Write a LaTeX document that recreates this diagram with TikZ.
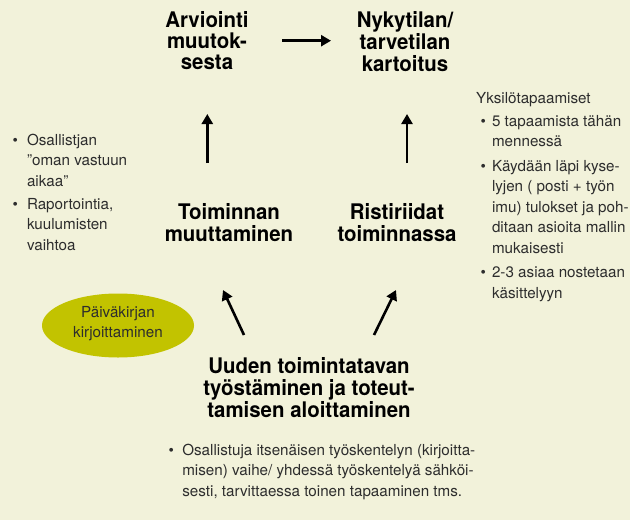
\documentclass[tikz,border=0pt]{standalone}
\usepackage{fontspec}
\setmainfont{TeX Gyre Heros}
\newfontfamily\headfam{TeX Gyre Heros}[FakeStretch=0.95]
\usetikzlibrary{arrows.meta,shapes.geometric}
\definecolor{paper}{RGB}{242,242,218}
\definecolor{olivefill}{RGB}{194,195,0}
\definecolor{ink}{RGB}{45,45,45}
\tikzset{
  head/.style={anchor=base, inner sep=0pt, text=black, font=\headfam\bfseries\fontsize{21.5}{21}\selectfont},
  notes/.style={anchor=base west, inner sep=0pt, text=ink, font=\fontsize{15.2}{20.5}\selectfont},
  flow/.style={line width=2.6pt, -{Triangle[length=10pt,width=11pt]}},
}
\begin{document}
\begin{tikzpicture}[x=1pt,y=1pt,yscale=-1,xscale=1]
	\fill [paper] (0,0) rectangle (630,520);
	\useasboundingbox (0,0) rectangle (630,520);
	% stages of the cycle
	\node [head] (arv) at (207,27) {\begin{tabular}[t]{@{}c@{}}Arviointi\\muutok-\\sesta\end{tabular}};
	\node [head] (nyk) at (405,27) {\begin{tabular}[t]{@{}c@{}}Nykytilan/\\tarvetilan\\kartoitus\end{tabular}};
	\node [head] (toim) at (229,219) {\begin{tabular}[t]{@{}c@{}}Toiminnan\\muuttaminen\end{tabular}};
	\node [head] (rist) at (397,219) {\begin{tabular}[t]{@{}c@{}}Ristiriidat\\toiminnassa\end{tabular}};
	\node [head] (uud) at (309,373) {\begin{tabular}[t]{@{}c@{}}Uuden toimintatavan\\työstäminen ja toteut-\\tamisen aloittaminen\end{tabular}};
	% arrow ends
	\coordinate (arvR) at (282,40.7);
	\coordinate (nykL) at (331,40.7);
	\coordinate (toimT) at (207.3,163);
	\coordinate (arvB) at (207.3,114);
	\coordinate (ristT) at (407,163);
	\coordinate (nykB) at (407,114);
	\coordinate (uudL) at (244,335);
	\coordinate (toimB) at (223,290);
	\coordinate (uudR) at (374,335);
	\coordinate (ristB) at (396,290);
	\draw [flow] (arvR) -- (nykL);
	\draw [flow] (toimT) -- (arvB);
	\draw [flow] (ristT) -- (nykB);
	\draw [flow] (uudL) -- (toimB);
	\draw [flow] (uudR) -- (ristB);
	% diary
	\node [ellipse, fill=olivefill, minimum width=152pt, minimum height=64pt, inner sep=0pt] (diary) at (118,325.5) {};
	\node [notes, anchor=base] (diarytxt) at (118,317) {\begin{tabular}[t]{@{}c@{}}Päiväkirjan\\kirjoittaminen\end{tabular}};
	% notes
	\node [notes] (own) at (12.5,145) {\begin{tabular}[t]{@{}l@{\hspace{9pt}}l@{}}\textbullet & Osallistjan\\ & ”oman vastuun\\ & aikaa”\\[2.5pt]
		\textbullet & Raportointia,\\ & kuulumisten\\ & vaihtoa\end{tabular}};
	\node [notes] (yks) at (476,103) {Yksilötapaamiset};
	\node [notes] (meet) at (480.5,126) {\begin{tabular}[t]{@{}l@{\hspace{6pt}}l@{}}\textbullet & 5 tapaamista tähän\\ & mennessä\\[4pt]
		\textbullet & Käydään läpi kyse-\\ & lyjen ( posti + työn\\ & imu) tulokset ja poh-\\ & ditaan asioita mallin\\ & mukaisesti\\[4pt]
		\textbullet & 2-3 asiaa nostetaan\\ & käsittelyyn\end{tabular}};
	\node [notes] (solo) at (168.5,455) {\begin{tabular}[t]{@{}l@{\hspace{8.3pt}}l@{}}\textbullet & Osallistuja itsenäisen työskentelyn (kirjoitta-\\
		& misen) vaihe/ yhdessä työskentelyä sähköi-\\ & sesti, tarvittaessa toinen tapaaminen tms.\end{tabular}};
\end{tikzpicture}
\end{document}
